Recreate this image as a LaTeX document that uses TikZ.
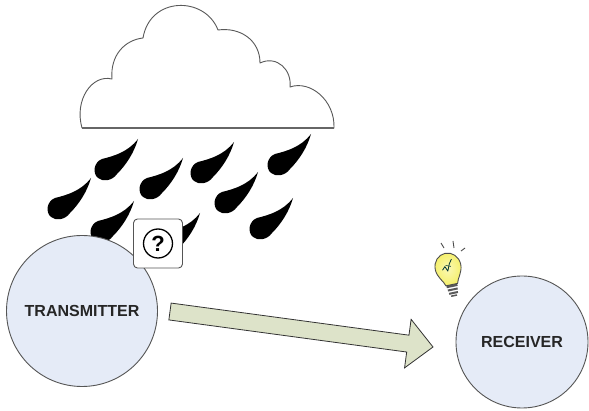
\documentclass[tikz,border=0pt]{standalone}
\usepackage{fontspec}
\setmainfont{Liberation Sans}
\usetikzlibrary{calc,positioning}
\definecolor{nodefill}{RGB}{229,235,247}
\definecolor{nodeline}{RGB}{85,85,85}
\definecolor{linkfill}{RGB}{221,227,201}
\definecolor{bulbglass}{RGB}{245,240,105}
\tikzstyle{station}=[circle,draw=nodeline,fill=nodefill,line width=0.9pt,inner sep=0pt,text=black!85,font=\fontsize{16}{18}\selectfont\bfseries]
\tikzstyle{qframe}=[rectangle,rounded corners=4pt,draw=nodeline,fill=white,line width=0.9pt,minimum size=49pt]
\tikzstyle{qring}=[circle,draw=black,line width=1.3pt,minimum size=29pt,inner sep=0pt,font=\fontsize{22}{22}\selectfont\bfseries]
\tikzstyle{link}=[draw=black!80,fill=linkfill,line width=0.8pt,line join=miter]
\tikzstyle{cloudline}=[draw=black!65,fill=white,line width=0.9pt]

\begin{document}
\begin{tikzpicture}[x=1pt,y=-1pt,line join=round]
	\fill[white] (0,0) rectangle (589,411);
	\useasboundingbox (0,0) rectangle (589,411);
	%% cloud
	\path[cloudline] (82,128) .. controls (74,100) and (92,74) .. (112,79)
	  .. controls (110,55) and (125,40) .. (143,38)
	  .. controls (150,-4) and (205,-4) .. (218,30)
	  .. controls (240,27) and (260,40) .. (260,63)
	  .. controls (277,55) and (292,70) .. (290,87)
	  .. controls (310,80) and (335,100) .. (334,128) -- cycle;
	\draw[black!60,line width=1.8pt] (82,128) -- (334,128);
	%% rain
	\foreach \x/\y in {106/169,59/208,102/231,151/188,202/172,279/164,226/202,261/228,168/243}
	  \fill[black,shift={(\x,\y)}] (32,-30) .. controls (22,-17) and (8,-13) .. (-4,-10)
	    .. controls (-12,-7) and (-14,4) .. (-8,9)
	    .. controls (-3,13) and (6,12) .. (11,5)
	    .. controls (20,-4) and (28,-16) .. (32,-30) -- cycle;
	%% stations
	\node (tx) at (82,311) [station,minimum size=151pt] {TRANSMITTER};
	\node (rx) at (522,342) [station,minimum size=132pt] {RECEIVER};
	\node (qbox) at (158,243.5) [qframe] {};
	\node (qmark) at (qbox) [qring] {?};
	%% link
	\coordinate (link tail) at (170,311.5);
	\coordinate (link tip) at (433,347);
	\coordinate (link neck) at ($(link tail)!240pt!(link tip)$);
	\path[link] ($(link tail)!8.5pt!90:(link tip)$)
	  -- ($(link neck)!8.5pt!90:(link tip)$)
	  -- ($(link neck)!24.5pt!90:(link tip)$)
	  -- (link tip)
	  -- ($(link neck)!24.5pt!-90:(link tip)$)
	  -- ($(link neck)!8.5pt!-90:(link tip)$)
	  -- ($(link tail)!8.5pt!-90:(link tip)$) -- cycle;
	%% bulb
	\draw[black!70,line width=0.9pt] (441,243) -- (444,248);
	\draw[black!70,line width=0.9pt] (453,241) -- (454,248);
	\draw[black!70,line width=0.9pt] (465,248) -- (461,251);
	\begin{scope}[shift={(448,267)},rotate=12]
	  \fill[black!65] (-5.5,18) rectangle (5.5,20.5);
	  \fill[black!65] (-5,22) rectangle (5,24);
	  \fill[black!65] (-4.5,25.5) rectangle (4.5,27.5);
	  \fill[black!65] (-3,28.5) rectangle (3,30);
	  \shade[inner color=white!50!bulbglass,outer color=bulbglass,draw=black!70,line width=0.9pt]
	    (-6,18) .. controls (-7,13) and (-13,8) .. (-13,0)
	    .. controls (-13,-8) and (-7,-14) .. (0,-14)
	    .. controls (7,-14) and (13,-8) .. (13,0)
	    .. controls (13,8) and (7,13) .. (6,18) -- cycle;
	  \draw[teal!40!black,line width=0.8pt] (-6,2) -- (-3,-1) -- (-1,4) -- (2,-3) -- (5,-7);
	  \draw[teal!40!black,line width=0.6pt] (-2,-2) -- (3,0);
	\end{scope}
\end{tikzpicture}
\end{document}
